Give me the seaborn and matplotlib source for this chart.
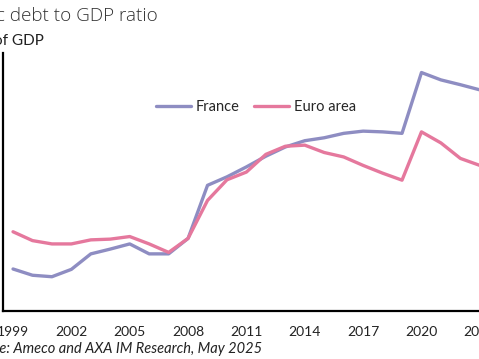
import matplotlib
matplotlib.use("Agg")
import matplotlib.pyplot as plt
import seaborn as sns
import pandas as pd
import numpy as np

years = list(range(1999, 2025))
france = [61.4, 59.7, 59.3, 61.3, 65.5, 66.8, 68.2, 65.5, 65.5, 69.7, 84.1, 86.4,
          89.1, 92.0, 94.5, 96.2, 97.0, 98.2, 98.8, 98.6, 98.2, 114.7, 112.7, 111.4,
          110.0, 113.0]
euro = [71.5, 69.1, 68.2, 68.2, 69.3, 69.5, 70.2, 68.2, 65.9, 69.7, 80.0, 85.6,
        87.7, 92.5, 94.7, 95.0, 93.0, 91.8, 89.5, 87.4, 85.5, 98.6, 95.6, 91.4,
        89.5, 88.0]
series_names = ["France", "Euro area"]
label_years = list(range(1999, 2025, 3))
tick_labels = [str(y) for y in label_years]
y_ticks = list(range(50, 121, 10))

title = "Public debt to GDP ratio"
subtitle = "% of GDP"
source = "Source: Ameco and AXA IM Research, May 2025"

colors = {"France": "#8E8DC2", "Euro area": "#E5789D"}

df = pd.DataFrame({
    "year": years * 2,
    "value": france + euro,
    "series": [series_names[0]] * len(years) + [series_names[1]] * len(years),
})

sns.set_theme(style="white")
plt.rcParams['font.family'] = ['Lato', 'DejaVu Sans']

W, H = 479, 359
fig = plt.figure(figsize=(W / 100, H / 100), dpi=100)
left_px, right_px, top_px, bottom_px = 3.3, 509, 53, 311
ax = fig.add_axes([left_px / W, (H - bottom_px) / H,
                   (right_px - left_px) / W, (bottom_px - top_px) / H])

sns.lineplot(data=df, x="year", y="value", hue="series", palette=colors,
             linewidth=2.4, ax=ax)

ax.set_xlim(1998.5, 2024.5)
ax.set_ylim(50, 120)
ax.set_xlabel("")
ax.set_ylabel("")

# tick marks between categories, labels centred on categories
ax.set_xticks(np.arange(1999.5, 2024.5, 1.0))
ax.set_xticks(label_years, minor=True)
ax.set_xticklabels(tick_labels, minor=True)
ax.tick_params(axis='x', which='major', direction='in', length=3.5, width=1.3,
               color='black', labelbottom=False)
ax.tick_params(axis='x', which='minor', length=0, pad=11, labelsize=10,
               labelcolor='#222222')
ax.set_yticks(y_ticks)
ax.tick_params(axis='y', which='major', direction='in', length=3.5, width=1.5,
               color='black', labelsize=10)

for s in ["top", "right"]:
    ax.spines[s].set_visible(False)
for s in ["left", "bottom"]:
    ax.spines[s].set_color("black")
    ax.spines[s].set_linewidth(1.6)

handles, labels = ax.get_legend_handles_labels()
ax.legend(handles, labels, loc="center", bbox_to_anchor=(0.5, 0.79), ncol=2,
          frameon=False, fontsize=10.5, handlelength=2.4, handletextpad=0.3,
          columnspacing=1.0)

fig.text(158 / W, 1 - 21 / H, title, ha="right", va="baseline", fontsize=13.6,
         color="#333333", family=["Open Sans", "DejaVu Sans"], fontweight="light")
fig.text(44 / W, 1 - 45 / H, subtitle, ha="right", va="baseline", fontsize=11,
         color="#222222")
fig.text(262 / W, 1 - 353 / H, source, ha="right", va="baseline", fontsize=10.5,
         style="italic", color="#222222")

fig.savefig("out.png", dpi=100)
